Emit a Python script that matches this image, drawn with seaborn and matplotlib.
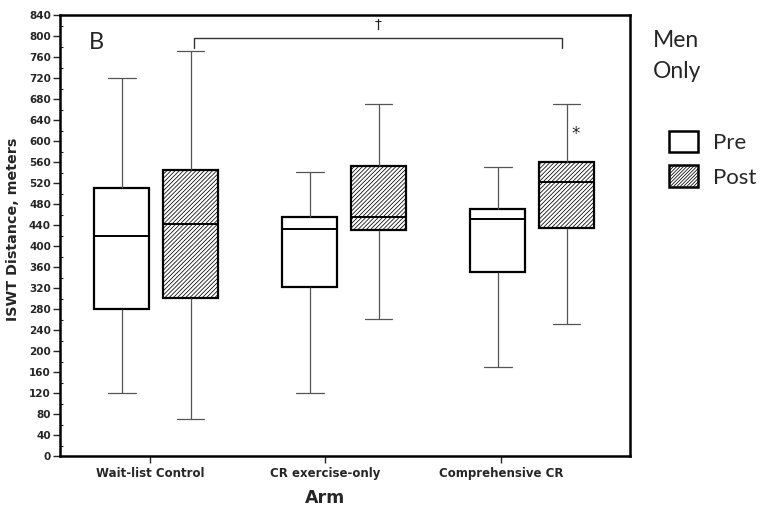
import numpy as np
import pandas as pd
import matplotlib
matplotlib.use("Agg")
import matplotlib.pyplot as plt
from matplotlib.patches import Patch
from matplotlib.ticker import MultipleLocator
import seaborn as sns

# ---- data ----
arms = ["Wait-list Control", "CR exercise-only", "Comprehensive CR"]
times = ["Pre", "Post"]

pre_min = [120, 120, 170]
pre_q1 = [280, 321, 350]
pre_med = [420, 432, 451]
pre_q3 = [511, 456, 471]
pre_max = [720, 541, 551]

post_min = [70, 261, 251]
post_q1 = [301, 430, 435]
post_med = [441, 456, 521]
post_q3 = [545, 552, 560]
post_max = [771, 670, 670]

tick_labels = ["Wait-list Control", "CR exercise-only", "Comprehensive CR"]
y_ticks = list(range(0, 841, 40))

rows = []
for i, arm in enumerate(arms):
    for v in (pre_min[i], pre_q1[i], pre_med[i], pre_q3[i], pre_max[i]):
        rows.append((arm, "Pre", v))
    for v in (post_min[i], post_q1[i], post_med[i], post_q3[i], post_max[i]):
        rows.append((arm, "Post", v))
df = pd.DataFrame(rows, columns=["arm", "time", "value"])

sns.set_style("ticks")
plt.rcParams["font.family"] = ["DejaVu Sans"]
plt.rcParams["hatch.linewidth"] = 0.55

fig = plt.figure(figsize=(7.64, 5.09), dpi=100)
ax = fig.add_axes([60 / 764, 1 - 456 / 509, 570 / 764, 441 / 509])

sns.boxplot(
    data=df, x="arm", y="value", hue="time",
    order=arms, hue_order=times,
    whis=(0, 100), width=0.73, gap=0.2,
    palette=["white", "white"], linecolor="black", linewidth=1.6,
    legend=False, ax=ax,
    whiskerprops=dict(color="#555555", linewidth=0.9),
    capprops=dict(color="#555555", linewidth=0.9),
    medianprops=dict(color="black", linewidth=1.4),
)

# hatch the Post boxes
for p in ax.patches:
    verts = p.get_path().vertices
    xc = verts[:, 0].mean()
    if xc - round(xc) > 0:
        p.set_hatch("////////")

ax.set_xlim(-0.512, 2.52)
ax.set_ylim(0, 840)
ax.set_yticks(y_ticks)
ax.yaxis.set_minor_locator(MultipleLocator(20))
ax.set_xticks([-0.032, 0.899, 1.835])
ax.set_xticklabels(tick_labels, fontsize=8.5, fontweight="bold")
for lab in ax.get_yticklabels():
    lab.set_fontsize(7.5)
    lab.set_fontweight("bold")

ax.tick_params(axis="y", which="major", direction="out", length=5, width=1, pad=1.5)
ax.tick_params(axis="y", which="minor", direction="in", length=2.5, width=0.8)
ax.tick_params(axis="x", which="major", direction="out", length=5, width=1, pad=3)

for s in ax.spines.values():
    s.set_visible(True)
    s.set_linewidth(1.8)
    s.set_color("black")

ax.set_xlabel("")
ax.set_ylabel("")
fig.text(13 / 764, 1 - 229.5 / 509, "ISWT Distance, meters", rotation=90,
         ha="center", va="center", fontsize=10.3, fontweight="bold")
fig.text(325 / 764, 1 - 498 / 509, "Arm", ha="center", va="center",
         fontsize=12.5, fontweight="bold")

# significance annotations
bracket_x = [0.2, 2.16]
ax.plot([bracket_x[0], bracket_x[0], bracket_x[1], bracket_x[1]],
        [778, 797, 797, 778], color="#333333", lw=1, clip_on=False)
ax.text(sum(bracket_x) / 2, 821, "\u2020", ha="center", va="center", fontsize=10)
ax.text(2.231, 613, "*", ha="center", va="center", fontsize=12)

fig.text(89 / 764, 1 - 49 / 509, "B", ha="left", va="baseline",
         fontsize=17, family="Lato")
fig.text(653 / 764, 1 - 47.3 / 509, "Men", ha="left", va="baseline",
         fontsize=16.5, family="Lato")
fig.text(653 / 764, 1 - 78.3 / 509, "Only", ha="left", va="baseline",
         fontsize=16.5, family="Lato")

handles = [
    Patch(facecolor="white", edgecolor="black", linewidth=1.8, label="Pre"),
    Patch(facecolor="white", edgecolor="black", linewidth=1.8,
          hatch="//////////", label="Post"),
]
fig.legend(handles=handles, loc="upper left",
           bbox_to_anchor=(669 / 764, 1 - 131 / 509),
           frameon=False, borderpad=0, borderaxespad=0,
           handlelength=1.3, handleheight=1.1, handletextpad=0.68,
           labelspacing=0.55, prop=dict(family="Lato", size=16))

fig.savefig("out.png", dpi=100)
